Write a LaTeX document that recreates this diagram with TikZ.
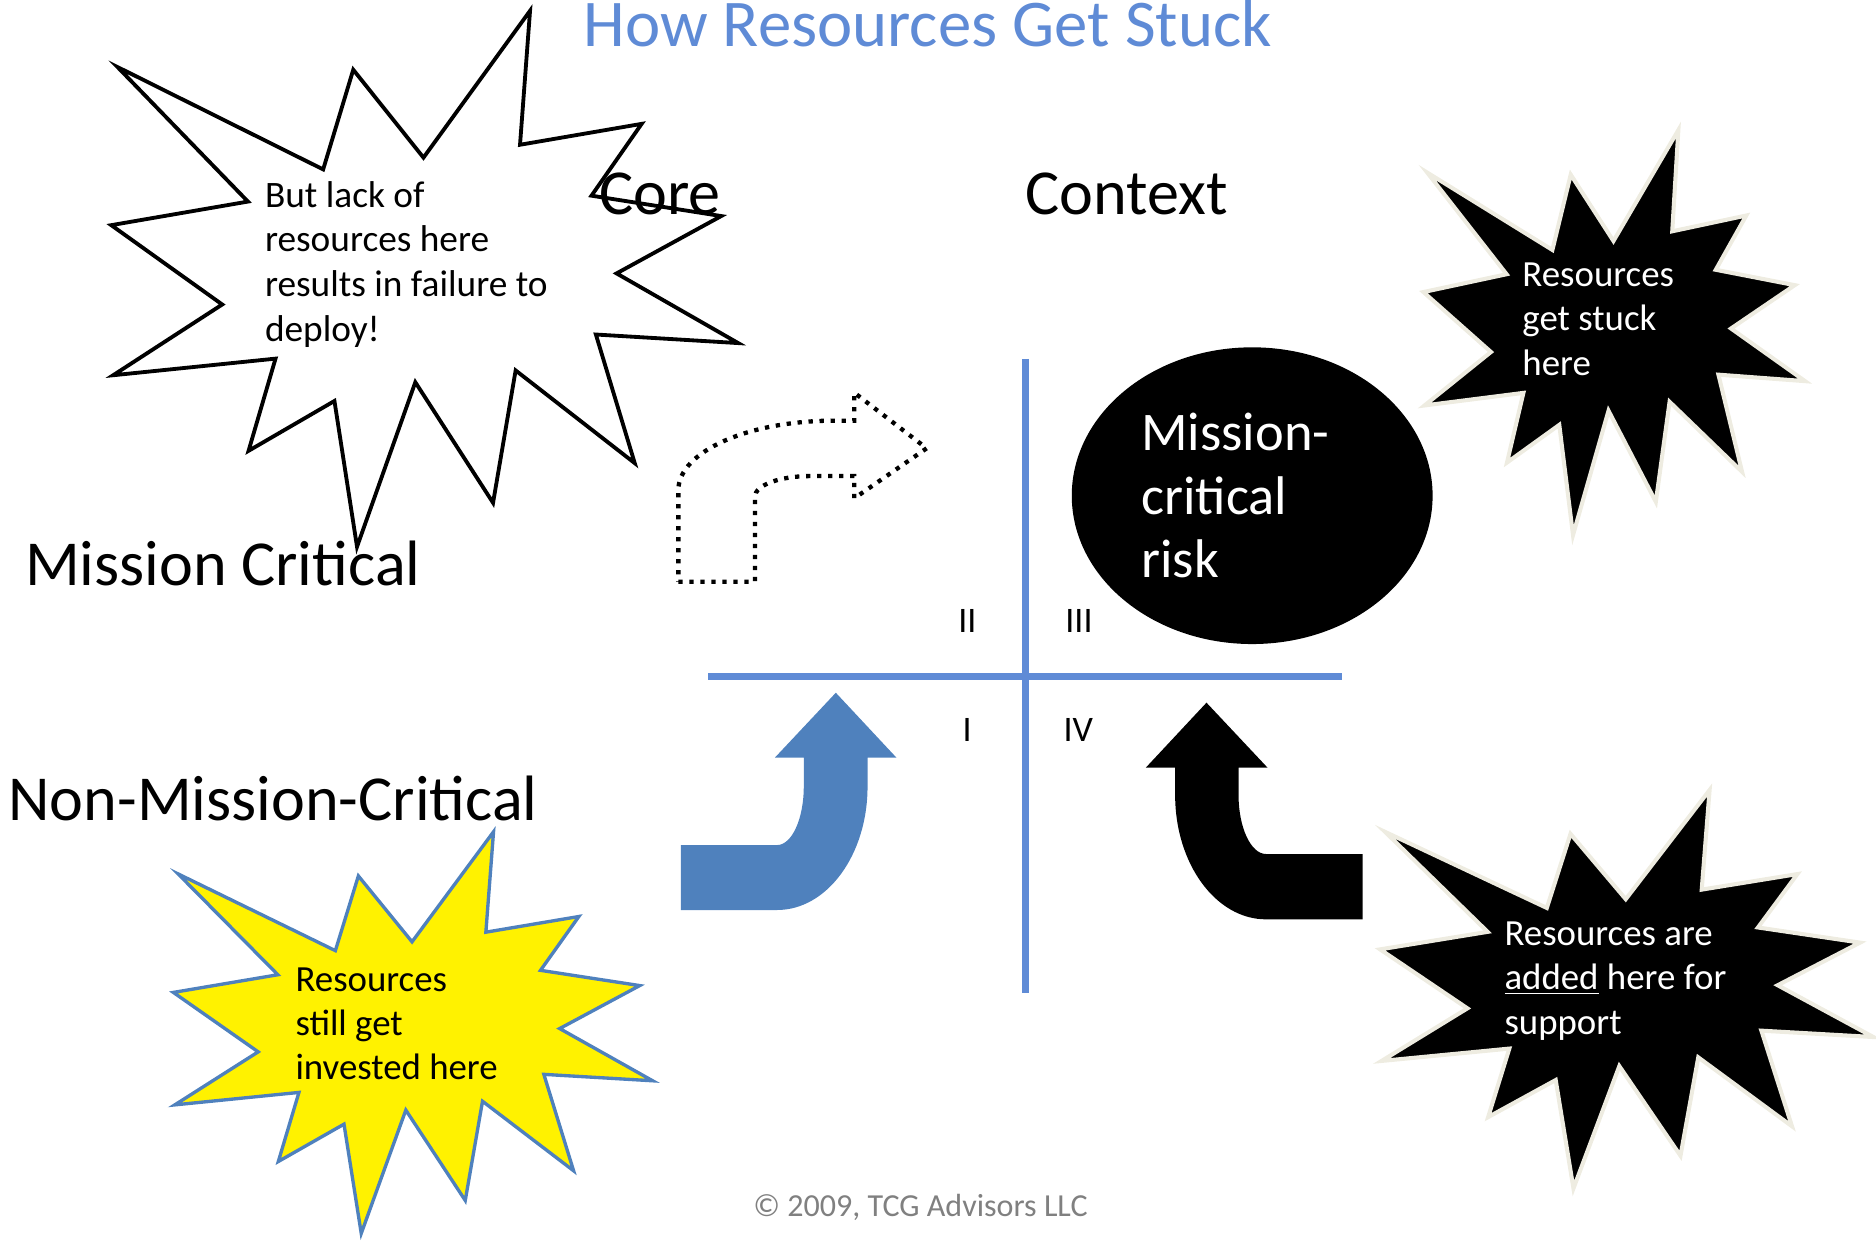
\documentclass[tikz,border=0pt]{standalone}
\usepackage{fontspec}
\setmainfont{Carlito}
\usetikzlibrary{shapes.geometric}

\definecolor{quadblue}{RGB}{95,139,214}
\definecolor{burstblue}{RGB}{79,129,189}
\definecolor{burstrim}{RGB}{238,236,225}
\definecolor{notegray}{RGB}{128,128,128}

\begin{document}
\begin{tikzpicture}[
      x=0.5pt, y=-0.5pt,
      every node/.style={inner sep=0pt, outer sep=0pt},
      headline/.style={font=\fontsize{27.9}{33}\selectfont, text=quadblue, anchor=base west},
      heading/.style={font=\fontsize{26.8}{32}\selectfont, anchor=base west},
      quadrant/.style={font=\fontsize{15}{18}\selectfont, anchor=base west},
      burstnote/.style={font=\fontsize{15.4}{18.5}\selectfont, align=left, anchor=north west},
      quadline/.style={draw=quadblue, line width=3pt},
      lackburst/.style={draw=black, line width=1.6pt},
      darkburst/.style={draw=burstrim, fill=black, line width=1.7pt},
      yellowburst/.style={draw=burstblue, fill=yellow, line width=1.4pt},
      riskblob/.style={ellipse, fill=black, minimum width=150.8pt, minimum height=124pt},
      burst/.style={insert path={(10,105) -- (338,296) -- (386,110) -- (498,274)
        -- (668,0) -- (652,250) -- (846,211) -- (766,345) -- (973,383) -- (806,490)
        -- (1000,620) -- (773,604) -- (835,844) -- (645,671) -- (609,918) -- (485,693)
        -- (392,1000) -- (356,728) -- (219,821) -- (262,649) -- (3,680) -- (177,548)
        -- (0,400) -- (218,356) -- cycle}}
    ]
    \useasboundingbox (0,0) rectangle (1568,1038);

    % title and axis labels
    \node[headline] (title) at (487.8,39) {How Resources Get Stuck};
    \node[heading] (core) at (500.8,179.7) {Core};
    \node[heading] (context) at (857.2,179.7) {Context};
    \node[heading] (mc) at (21,489) {Mission Critical};
    \node[heading] (nmc) at (7.1,685.4) {Non-Mission-Critical};

    % quadrant cross
    \coordinate (vtop) at (857,300);
    \coordinate (vbot) at (857,830);
    \coordinate (hleft) at (592,565.5);
    \coordinate (hright) at (1122,565.5);
    \draw[quadline] (vtop) -- (vbot);
    \draw[quadline] (hleft) -- (hright);

    \node[quadrant] (q2) at (801,528.8) {II};
    \node[quadrant] (q3) at (890.5,528.8) {III};
    \node[quadrant] (q1) at (804.5,620) {I};
    \node[quadrant] (q4) at (889,620) {IV};

    % bursts
    \begin{scope}[shift={(93,9)}, x=0.262pt, y=-0.224pt]
      \draw[lackburst, burst];
    \end{scope}
    \begin{scope}[shift={(1189.7,108.7)}, x=0.1595pt, y=-0.16925pt]
      \draw[darkburst, burst];
    \end{scope}
    \begin{scope}[shift={(1153.5,660.3)}, x=0.20615pt, y=-0.1665pt]
      \draw[darkburst, burst];
    \end{scope}
    \begin{scope}[shift={(144.9,695.2)}, x=0.2003pt, y=-0.16785pt]
      \draw[yellowburst, burst];
    \end{scope}

    \node[burstnote, font=\fontsize{15.6}{18.65}\selectfont] (lack)
      at (221.5,151.5) {But lack of\\resources here\\results in failure to\\deploy!};
    \node[burstnote, text=white] (stuck)
      at (1272.5,219.8) {Resources\\get stuck\\here};
    \node[burstnote, text=white] (added)
      at (1257.5,770.6) {Resources are\\\underline{added} here for\\support};
    \node[burstnote] (invested)
      at (247,808.7) {Resources\\still get\\invested here};

    % mission-critical risk
    \node[riskblob] (risk) at (1046.6,414.3) {};
    \node[burstnote, text=white, font=\fontsize{22.75}{26.5}\selectfont] (risktext)
      at (954,345.5) {Mission-\\critical\\risk};

    % arrows
    \draw[black, line width=1.8pt, dash pattern=on 1.8pt off 2.8pt]
      (567,486.2) -- (631,486.2) -- (631,415.1)
      .. controls (631,405.6) and (651.6,397.9) .. (677,397.9)
      -- (714,397.9) -- (714,416.5) -- (774.5,374.7) -- (714,328.2)
      -- (714,351.6) -- (697,351.6)
      .. controls (625.2,351.6) and (567,377.6) .. (567,409.6) -- cycle;
    \fill[burstblue]
      (569,706.3) -- (649.5,706.3)
      .. controls (661.8,706.3) and (671.8,684.5) .. (671.8,657.5)
      -- (671.8,633.3) -- (647.6,633.3) -- (698.6,579) -- (749.3,633.3)
      -- (725.1,633.3) -- (725.1,657.5)
      .. controls (725.1,714.4) and (691.3,760.6) .. (649.5,760.6)
      -- (569,760.6) -- cycle;
    \fill[black]
      (1138.8,713.8) -- (1058.2,713.8)
      .. controls (1045.5,713.8) and (1035.2,691.7) .. (1035.2,664.5)
      -- (1035.2,641.6) -- (1059.4,641.6) -- (1008.4,587.3) -- (957.7,641.6)
      -- (982.2,641.6) -- (982.2,664.5)
      .. controls (982.2,721.9) and (1016.2,768.4) .. (1058.2,768.4)
      -- (1138.8,768.4) -- cycle;

    \node[anchor=base west, text=notegray, font=\fontsize{13.4}{16}\selectfont] (copy)
      at (629.7,1017) {© 2009, TCG Advisors LLC};
  \end{tikzpicture}
\end{document}
